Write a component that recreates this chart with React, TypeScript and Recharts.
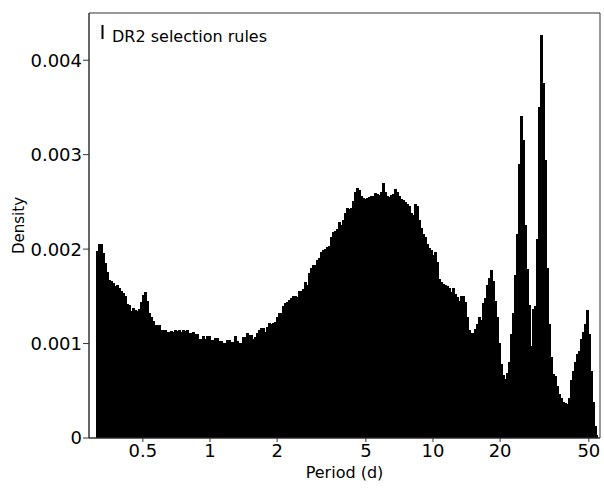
import { AreaChart, Area, XAxis, YAxis, ReferenceArea } from 'recharts'

const periodTicks = [0.5, 1, 2, 5, 10, 20, 50]
const densityTicks = [0, 0.001, 0.002, 0.003, 0.004]
const minorDensityTicks = Array.from({ length: 46 }, (_, i) => i * 0.0001)

// log-spaced histogram bins: first edge and bins per decade
const firstBinEdge = 0.3083
const binsPerDecade = 111.5

// density per bin, in units of 1e-3
// 0.31 – 1.05 d
const densityShort = [
  1.98, 2.05, 2.05, 1.95, 1.85, 1.75, 1.67, 1.66, 1.64, 1.6,
  1.61, 1.58, 1.55, 1.53, 1.5, 1.41, 1.4, 1.34, 1.37, 1.35,
  1.34, 1.36, 1.44, 1.51, 1.54, 1.45, 1.32, 1.28, 1.23, 1.19,
  1.19, 1.19, 1.14, 1.14, 1.14, 1.12, 1.12, 1.13, 1.12, 1.14,
  1.13, 1.14, 1.12, 1.14, 1.13, 1.14, 1.11, 1.11, 1.12, 1.1,
  1.1, 1.04, 1.04, 1.07, 1.04, 1.07, 1.07, 1.03, 1.03, 1.05
]
// 1.05 – 3.6 d
const densityMid = [
  1.05, 1.02, 1.02, 1.0, 1.0, 1.03, 1.03, 1.01, 1.01, 1.07,
  1.02, 1.0, 1.0, 1.06, 1.06, 1.11, 1.09, 1.09, 1.04, 1.06,
  1.11, 1.14, 1.16, 1.16, 1.12, 1.17, 1.21, 1.2, 1.21, 1.22,
  1.28, 1.32, 1.32, 1.39, 1.42, 1.44, 1.46, 1.48, 1.5, 1.5,
  1.49, 1.55, 1.55, 1.57, 1.65, 1.62, 1.74, 1.8, 1.83, 1.83,
  1.88, 1.9, 1.96, 1.99, 2.0, 2.02, 2.03, 2.12, 2.18, 2.19
]
// 3.6 – 14 d
const densityPeak = [
  2.21, 2.28, 2.25, 2.3, 2.38, 2.43, 2.42, 2.43, 2.5, 2.6,
  2.64, 2.62, 2.56, 2.54, 2.53, 2.54, 2.55, 2.56, 2.56, 2.59,
  2.58, 2.57, 2.6, 2.69, 2.6, 2.56, 2.55, 2.57, 2.58, 2.63,
  2.6, 2.56, 2.53, 2.51, 2.49, 2.47, 2.45, 2.38, 2.36, 2.47,
  2.45, 2.3, 2.22, 2.16, 2.12, 2.05, 2.01, 1.99, 1.93, 1.96,
  1.86, 1.68, 1.65, 1.63, 1.61, 1.6, 1.58, 1.54, 1.58, 1.52,
  1.49, 1.45, 1.5, 1.5, 1.43
]
// 14 – 55 d
const densityLong = [
  1.28, 1.14, 1.11, 1.11, 1.15, 1.2, 1.28, 1.24, 1.42, 1.48,
  1.62, 1.69, 1.77, 1.66, 1.45, 1.28, 1.0, 0.78, 0.66, 0.62,
  0.68, 0.8, 1.1, 1.32, 1.72, 2.15, 2.9, 3.4, 3.15, 2.25,
  1.78, 1.4, 0.97, 1.36, 1.39, 2.1, 3.5, 4.26, 3.75, 2.94,
  1.8, 1.2, 0.85, 0.67, 0.65, 0.55, 0.46, 0.42, 0.38, 0.37,
  0.35, 0.42, 0.61, 0.7, 0.8, 0.88, 0.92, 1.04, 1.12, 1.2,
  1.35, 1.1, 0.7, 0.38, 0.12, 0.03
]

const densities = [...densityShort, ...densityMid, ...densityPeak, ...densityLong]
const binEdge = (i: number) => firstBinEdge * Math.pow(10, i / binsPerDecade)

const data = densities.map((d, i) => ({ period: binEdge(i), density: d / 1000 }))
// close the last bin
data.push({ period: binEdge(densities.length), density: densities[densities.length - 1] / 1000 })

const xDomain = [0.2867, 56.1]
const yDomain = [0, 0.0045]

export default function App() {
  return (
    <div style={{ position: 'absolute', left: 0, top: 0, width: 604, height: 488, fontFamily: 'DejaVu Sans, sans-serif' }}>
      <AreaChart width={604} height={488} data={data} margin={{ top: 13, right: 4, left: 0, bottom: 0 }}>
        <XAxis
          dataKey="period"
          type="number"
          scale="log"
          domain={xDomain}
          allowDataOverflow
          ticks={periodTicks}
          height={50}
          tickSize={4}
          tickMargin={2}
          stroke="#333"
          tick={{ fill: '#000', fontSize: 18 }}
          label={{ value: 'Period (d)', position: 'insideBottom', offset: 10, fill: '#000', fontSize: 16 }}
        />
        <YAxis
          type="number"
          domain={yDomain}
          allowDataOverflow
          ticks={densityTicks}
          width={89}
          tickSize={6}
          tickMargin={1}
          stroke="#333"
          tick={{ fill: '#000', fontSize: 18 }}
          label={{
            value: 'Density',
            angle: -90,
            position: 'insideLeft',
            offset: 19,
            fill: '#000',
            fontSize: 15,
            style: { textAnchor: 'middle' }
          }}
        />
        <YAxis
          yAxisId="minor"
          orientation="left"
          mirror
          width={0}
          type="number"
          domain={yDomain}
          allowDataOverflow
          ticks={minorDensityTicks}
          tick={false}
          tickSize={3}
          axisLine={false}
          stroke="#333"
        />
        <ReferenceArea x1={xDomain[0]} x2={xDomain[1]} y1={yDomain[0]} y2={yDomain[1]} fill="none" stroke="#333" />
        <Area
          type="stepAfter"
          dataKey="density"
          stroke="#000"
          strokeWidth={1}
          fill="#000"
          fillOpacity={1}
          shapeRendering="crispEdges"
          isAnimationActive={false}
        />
      </AreaChart>
      <svg width={604} height={488} style={{ position: 'absolute', left: 0, top: 0, pointerEvents: 'none' }}>
        <line x1={102.5} x2={102.5} y1={25} y2={39} stroke="#000" strokeWidth={2} />
        <text x={112} y={42} fontSize={16} fill="#000">DR2 selection rules</text>
      </svg>
    </div>
  )
}
